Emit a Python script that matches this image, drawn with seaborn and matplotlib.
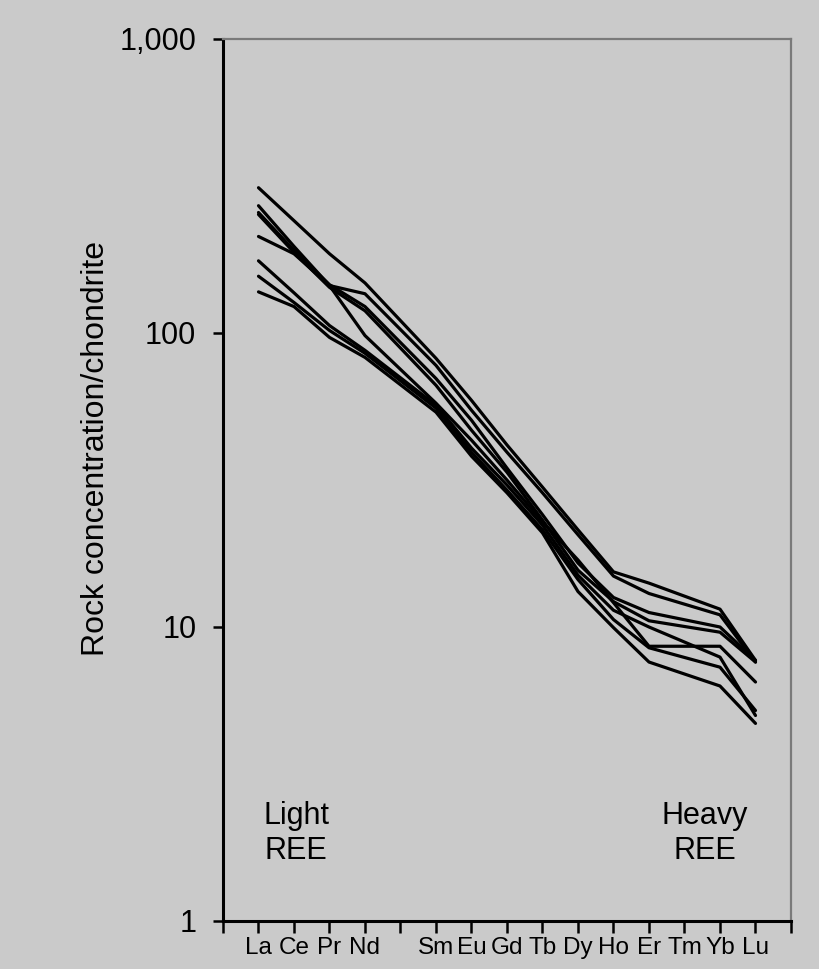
import matplotlib
matplotlib.use("Agg")
import matplotlib.pyplot as plt
import numpy as np
import pandas as pd
import seaborn as sns

# ---- data -------------------------------------------------------------
tick_labels = ["", "La", "Ce", "Pr", "Nd", "", "Sm", "Eu", "Gd", "Tb",
               "Dy", "Ho", "Er", "Tm", "Yb", "Lu", ""]
elements = ["La", "Ce", "Pr", "Nd", "Sm", "Eu", "Gd", "Tb", "Dy", "Ho",
            "Er", "Yb", "Lu"]

sample_A = [312, 241, 186, 148, 82.0, 59.0, 41.6, 29.9, 21.4, 15.4, 14.1, 11.5, 7.7]
sample_B = [271, 197, 145, 98.0, 57.7, 43.2, 31.6, 22.8, 16.9, 12.1, 8.6, 8.6, 6.5]
sample_C = [257, 191, 146, 123, 70.0, 50.5, 34.7, 24.1, 16.5, 12.6, 11.2, 10.0, 7.7]
sample_D = [253, 188, 143, 119, 66.4, 46.7, 33.6, 23.1, 15.6, 12.2, 10.5, 9.6, 7.6]
sample_E = [213, 186, 145, 136, 77.6, 54.6, 39.3, 28.6, 20.6, 14.9, 13.0, 11.0, 7.6]
sample_F = [176, 137, 106, 87.3, 56.8, 40.6, 30.4, 22.2, 15.0, 11.4, 10.0, 7.9, 5.0]
sample_G = [156, 127, 102, 85.3, 55.5, 39.3, 29.2, 21.4, 14.5, 10.6, 8.5, 7.3, 5.2]
sample_H = [138, 123, 96.6, 82.6, 53.8, 38.1, 28.6, 20.9, 13.2, 9.95, 7.6, 6.3, 4.7]

samples = {"A": sample_A, "B": sample_B, "C": sample_C, "D": sample_D,
           "E": sample_E, "F": sample_F, "G": sample_G, "H": sample_H}

y_ticks = [1, 10, 100, 1000]
y_tick_labels = ["1", "10", "100", "1,000"]

rows = []
for name, vals in samples.items():
    for el, v in zip(elements, vals):
        rows.append({"sample": name, "element": el,
                     "pos": tick_labels.index(el), "value": v})
df = pd.DataFrame(rows)

# ---- style -------------------------------------------------------------
sns.set_style("ticks")
bg = "#cacaca"
plt.rcParams["font.family"] = ["Liberation Sans", "DejaVu Sans"]
plt.rcParams["text.color"] = "black"
plt.rcParams["axes.labelcolor"] = "black"
plt.rcParams["xtick.color"] = "black"
plt.rcParams["ytick.color"] = "black"

fig = plt.figure(figsize=(8.19, 9.69), dpi=100, facecolor=bg)
ax = fig.add_axes([223 / 819, 48 / 969, 568 / 819, 882 / 969])
ax.set_facecolor(bg)

sns.lineplot(data=df, x="pos", y="value", units="sample", estimator=None,
             color="black", linewidth=2.3, ax=ax, sort=False)

ax.set_yscale("log")
ax.set_ylim(1, 1000)
ax.set_xlim(0, 16)
ax.set_yticks(y_ticks)
ax.set_yticklabels(y_tick_labels)
ax.yaxis.set_minor_locator(matplotlib.ticker.NullLocator())
ax.set_xticks(range(len(tick_labels)))
ax.set_xticklabels(tick_labels)

ax.tick_params(axis="y", direction="out", length=7.2, width=1.8,
               labelsize=22, pad=12, colors="black", labelcolor="black")
ax.tick_params(axis="x", direction="out", length=8.5, width=1.8,
               labelsize=17.5, pad=3, colors="black", labelcolor="black")

for side in ["left", "bottom"]:
    ax.spines[side].set_color("black")
    ax.spines[side].set_linewidth(2.2)
for side in ["top", "right"]:
    ax.spines[side].set_visible(True)
    ax.spines[side].set_color("#7a7a7a")
    ax.spines[side].set_linewidth(1.6)

ax.set_xlabel("")
ax.set_ylabel("Rock concentration/chondrite", fontsize=23, color="black")
ax.yaxis.label.set(va="center", ha="center", rotation_mode="default")
ax.yaxis.set_label_coords((96 - 223) / 568, (921 - 448) / 882)

ax.text(2.06, 1.98, "Light\nREE", ha="center", va="center", fontsize=22,
        linespacing=1.2, color="black")
ax.text(13.58, 1.98, "Heavy\nREE", ha="center", va="center", fontsize=22,
        linespacing=1.2, color="black")

fig.savefig("out.png", dpi=100, facecolor=bg)
